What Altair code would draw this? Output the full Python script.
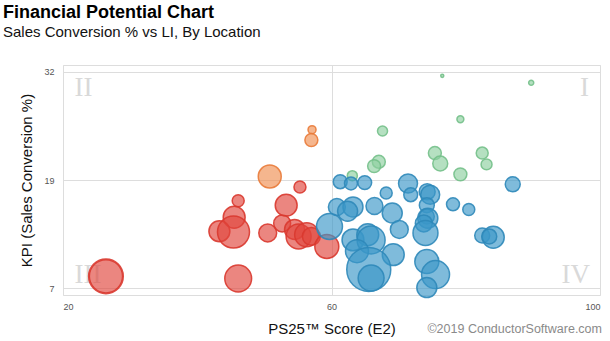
import altair as alt
import pandas as pd

# Data
score = [57.1, 57.0, 50.8,
         55.3, 46.1, 45.5, 43.3, 45.4, 50.5, 53.25, 52.65, 54.5, 55.1, 56.3, 57.0, 59.3, 26.4, 46.1,
         76.5, 89.75, 79.2, 67.6, 75.4, 76.2, 82.45, 83.1, 79.2, 67.05, 66.35, 63.1,
         61.3, 62.9, 64.95, 71.4, 87.0, 68.15, 71.8, 74.25, 74.7, 78.1, 80.45, 74.2, 74.2,
         60.8, 63.2, 62.4, 66.4, 69.05, 74.35, 73.75, 74.0, 70.1, 59.7, 63.2, 65.4, 65.9,
         63.8, 69.2, 65.55, 65.9, 74.2, 75.5, 74.2, 82.45, 84.1, 83.5]
kpi = [25.3, 24.1, 19.9,
       18.7, 17.1, 15.2, 13.6, 13.5, 13.4, 16.6, 14.5, 13.8, 13.0, 13.2, 13.0, 11.85, 8.4, 8.15,
       31.5, 30.7, 26.5, 25.15, 22.6, 21.4, 22.6, 21.3, 20.15, 21.6, 21.1, 20.0,
       19.3, 19.1, 19.2, 19.1, 19.0, 18.0, 17.8, 18.15, 17.8, 16.7, 16.1, 16.6, 15.3,
       16.4, 16.4, 15.9, 16.5, 15.7, 15.1, 14.5, 13.4, 13.8, 14.15, 12.6, 13.2, 12.6,
       11.3, 10.9, 9.2, 8.2, 10.1, 8.6, 7.1, 13.1, 12.9, 13.0]
li = [4, 10.5, 33,
      9, 9, 30, 27.5, 64, 20, 30, 18, 25, 39, 36, 20, 36, 72, 45,
      0.6, 1.6, 3, 6.3, 10.5, 14, 9, 7.5, 10.5, 10.5, 10.5, 6.3,
      12, 10.5, 12, 22.5, 14, 9, 12, 16, 22.5, 10.5, 9, 14, 14,
      18, 25, 25, 18, 25, 25, 18, 39, 20, 42, 30, 30, 49,
      33, 30, 121, 42, 36, 49, 25, 14, 30, 14]
quadrant = (["II"] * 3 + ["III"] * 15 + ["I"] * 12 + ["IV"] * 36)
highlighted = [False] * 16 + [True] + [False] * 49

quad_names = ["I", "II", "III", "IV"]
fill_colors = ["#8dd0a0", "#ef8f52", "#e0453c", "#3b97c7"]
stroke_colors = ["#74c08a", "#e97b3a", "#d9392f", "#2f88b9"]

df = pd.DataFrame({"score": score, "kpi": kpi, "li": li,
                   "quadrant": quadrant, "hl": highlighted})

W, H = 537, 230

x_enc = alt.X("score:Q",
              scale=alt.Scale(domain=[20, 100], nice=False, zero=False),
              axis=alt.Axis(values=[20, 60, 100], title="PS25™ Score (E2)",
                            grid=True, gridColor="#dddddd", ticks=False, domain=False,
                            labelFontSize=9, labelColor="#555555", labelPadding=7,
                            labelFont="Liberation Sans",
                            titleFont="Liberation Sans", titleFontSize=15,
                            titleFontWeight="normal", titleColor="#111111",
                            titlePadding=10))
y_enc = alt.Y("kpi:Q",
              scale=alt.Scale(domain=[6.25, 32.75], nice=False, zero=False),
              axis=alt.Axis(values=[7, 19.5, 32], title="KPI (Sales Conversion %)",
                            labelExpr="datum.value == 19.5 ? '19' : format(datum.value, 'd')",
                            grid=True, gridColor="#dddddd", ticks=False, domain=False,
                            labelFontSize=9, labelColor="#555555", labelPadding=9,
                            labelFont="Liberation Sans",
                            titleFont="Liberation Sans", titleFontSize=15,
                            titleFontWeight="normal", titleColor="#111111",
                            titlePadding=9))

bubbles = alt.Chart(df).mark_circle(opacity=1, fillOpacity=0.65, strokeOpacity=0.9).encode(
    x=x_enc,
    y=y_enc,
    size=alt.Size("li:Q", scale=alt.Scale(domain=[0, 100], range=[0, 1600], zero=True),
                  legend=None),
    fill=alt.Fill("quadrant:N", scale=alt.Scale(domain=quad_names, range=fill_colors),
                  legend=None),
    stroke=alt.Stroke("quadrant:N", scale=alt.Scale(domain=quad_names, range=stroke_colors),
                      legend=None),
    strokeWidth=alt.condition("datum.hl", alt.value(2.2), alt.value(1.5)),
)

# quadrant labels
quad_df = pd.DataFrame({"t": ["II", "I", "III", "IV"]})
quad_style = dict(font="Liberation Serif", fontSize=27, color="#d9d9d9")
q1 = alt.Chart(quad_df).transform_filter("datum.t == 'II'").mark_text(
    align="left", baseline="alphabetic", **quad_style).encode(
    text="t:N", x=alt.value(11.5), y=alt.value(31))
q2 = alt.Chart(quad_df).transform_filter("datum.t == 'I'").mark_text(
    align="right", baseline="alphabetic", **quad_style).encode(
    text="t:N", x=alt.value(526), y=alt.value(31))
q3 = alt.Chart(quad_df).transform_filter("datum.t == 'III'").mark_text(
    align="left", baseline="alphabetic", **quad_style).encode(
    text="t:N", x=alt.value(11.5), y=alt.value(218))
q4 = alt.Chart(quad_df).transform_filter("datum.t == 'IV'").mark_text(
    align="right", baseline="alphabetic", **quad_style).encode(
    text="t:N", x=alt.value(527), y=alt.value(218))

credit = alt.Chart(pd.DataFrame({"t": ["©2019 ConductorSoftware.com"]})).mark_text(
    align="right", baseline="alphabetic", font="Liberation Sans", fontSize=12.5,
    color="#8a8a8a").encode(text="t:N", x=alt.value(539), y=alt.value(268))

chart = alt.layer(q1, q2, q3, q4, bubbles, credit).properties(
    width=W, height=H,
    title=alt.TitleParams(
        text="Financial Potential Chart",
        subtitle="Sales Conversion % vs LI, By Location",
        anchor="start", frame="group", dx=-60, offset=25,
        font="Liberation Sans", fontSize=18, fontWeight="bold", color="#000000",
        subtitleFont="Liberation Sans", subtitleFontSize=15, subtitleColor="#111111",
        subtitlePadding=3),
    autosize=alt.AutoSizeParams(type="none"),
    padding={"left": 63, "top": 65, "right": 10, "bottom": 46},
).configure_view(stroke="#444444", strokeWidth=2).configure(background="white")

chart.save("out.html", embed_options={"renderer": "svg", "actions": False})
